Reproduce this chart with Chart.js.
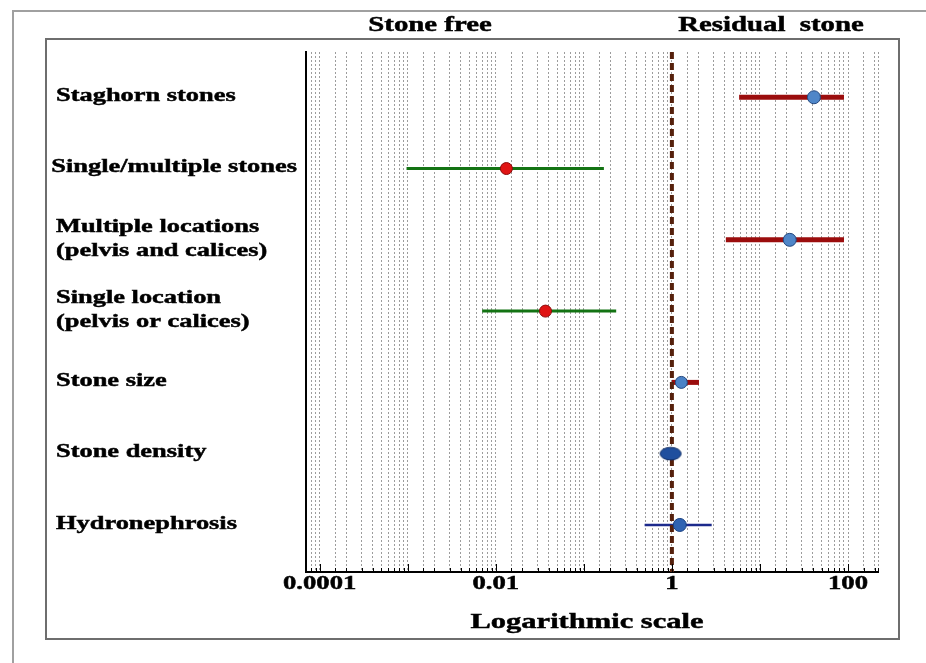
<!DOCTYPE html>
<html>
<head>
<meta charset="utf-8">
<script src="https://cdn.jsdelivr.net/npm/chart.js@4.4.0/dist/chart.umd.min.js"></script>
<style>
  html, body { margin: 0; padding: 0; background: #fff; overflow: hidden; }
  #wrap { position: relative; width: 926px; height: 663px; }
  #outer { position: absolute; left: 12px; top: 10px; width: 930px; height: 700px; border: 2px solid #a0a0a0; box-sizing: border-box; }
  #inner { position: absolute; left: 45px; top: 38px; width: 855px; height: 602px; border: 2px solid #6e6e6e; box-sizing: border-box; }
  canvas { position: absolute; left: 0; top: 0; }
</style>
</head>
<body>
<div id="wrap">
  <div id="outer"></div>
  <div id="inner"></div>
  <canvas id="forest" width="926" height="663"></canvas>
</div>
<script>
// rows of the forest plot, top to bottom
const categories = [
  ['Staghorn stones'],
  ['Single/multiple stones'],
  ['Multiple locations', '(pelvis and calices)'],
  ['Single location', '(pelvis or calices)'],
  ['Stone size'],
  ['Stone density'],
  ['Hydronephrosis']
];
const estimates = [41, 0.0132, 21.8, 0.0367, 1.28, 0.966, 1.23];
const lowerCI   = [5.8, 0.00097, 4.1, 0.0070, 1.0, 0.88, 0.49];
const upperCI   = [90, 0.169, 90, 0.233, 2.03, 1.1, 2.83];

const tickValues = [0.0001, 0.01, 1, 100];
const tickLabels = ['0.0001', '0.01', '1', '100'];
const referenceValue = 1;
const sideTitles = ['Stone free', 'Residual  stone'];
const axisTitle = 'Logarithmic scale';

// axis bounds
const X_MIN = 0.00007, X_MAX = 219;
const Y_MIN = -0.635, Y_MAX = 6.66;

// styles
const ciColors  = ['#9b0d0d', '#137313', '#9b0d0d', '#137313', '#9b0d0d', '#1c3f94', '#1c2a8c'];
const ciWidths  = [5, 3, 5, 3, 5, 3, 2.5];
const dotFill   = ['#4f86c8', '#e01414', '#4f86c8', '#e01414', '#4a82c6', '#1f4f9e', '#2f63b2'];
const dotEdge   = ['#23477e', '#8a0a0a', '#23477e', '#8a0a0a', '#23477e', '#0f2d66', '#173f80'];
const STRETCH = 1.42;
const FONT = '"Liberation Serif", "Times New Roman", serif';

// oval marker for stone density
const oval = document.createElement('canvas');
oval.width = 24; oval.height = 15;
const oc = oval.getContext('2d');
oc.beginPath();
oc.ellipse(12, 7.5, 10.5, 6.3, 0, 0, Math.PI * 2);
oc.fillStyle = dotFill[5];
oc.fill();
oc.lineWidth = 1;
oc.strokeStyle = dotEdge[5];
oc.stroke();
const dotStyles = ['circle', 'circle', 'circle', 'circle', 'circle', oval, 'circle'];
const dotRadius = [6.5, 6, 6.5, 6, 6, 7, 6.5];

function wideText(ctx, text, x, y, size, align) {
  ctx.save();
  ctx.font = 'bold ' + size + 'px ' + FONT;
  ctx.textBaseline = 'middle';
  ctx.textAlign = 'left';
  const w = ctx.measureText(text).width * STRETCH;
  const left = align === 'center' ? x - w / 2 : x;
  ctx.translate(left, y);
  ctx.scale(STRETCH, 1);
  ctx.fillStyle = '#000';
  ctx.strokeStyle = '#000';
  ctx.lineWidth = 0.45;
  ctx.fillText(text, 0, 0);
  ctx.strokeText(text, 0, 0);
  ctx.restore();
  return w;
}

function measureWide(ctx, text, size) {
  ctx.save();
  ctx.font = 'bold ' + size + 'px ' + FONT;
  const w = ctx.measureText(text).width * STRETCH;
  ctx.restore();
  return w;
}

const textPlugin = {
  id: 'forestText',
  afterDraw(chart) {
    const ctx = chart.ctx;
    const xs = chart.scales.x, ys = chart.scales.y;
    const area = chart.chartArea;

    // small tick marks pointing up from the axis line
    ctx.save();
    ctx.strokeStyle = '#000';
    ctx.lineWidth = 1;
    xs.ticks.forEach(t => {
      const px = Math.round(xs.getPixelForValue(t.value)) + 0.5;
      const len = t.major ? 8 : 4;
      ctx.beginPath();
      ctx.moveTo(px, area.bottom);
      ctx.lineTo(px, area.bottom - len);
      ctx.stroke();
    });
    ctx.restore();

    // row labels
    categories.forEach((lines, i) => {
      const cy = ys.getPixelForValue(i) - 1;
      lines.forEach((line, k) => {
        const y = cy + (k - (lines.length - 1) / 2) * 24;
        const w = measureWide(ctx, line, 18.6);
        const x = Math.min(56, area.left - 9 - w);
        wideText(ctx, line, x, y, 18.6, 'left');
      });
    });

    // tick labels
    tickValues.forEach((v, i) => {
      wideText(ctx, tickLabels[i], xs.getPixelForValue(v), area.bottom + 12, 18.8, 'center');
    });

    // axis title
    wideText(ctx, axisTitle, (area.left + area.right) / 2 - 5, area.bottom + 50, 21.5, 'center');

    // side titles above the box
    wideText(ctx, sideTitles[0], 430, 26, 20.3, 'center');
    wideText(ctx, sideTitles[1], 771, 26, 20.3, 'center');
  }
};

const ciSets = categories.map((c, i) => ({
  data: [{x: lowerCI[i], y: i}, {x: upperCI[i], y: i}],
  showLine: true,
  borderColor: ciColors[i],
  borderWidth: ciWidths[i],
  pointRadius: 0,
  order: 3
}));

const refSet = {
  data: [{x: referenceValue, y: Y_MIN}, {x: referenceValue, y: Y_MAX}],
  showLine: true,
  borderColor: '#55200c',
  borderWidth: 4,
  borderDash: [7, 4],
  pointRadius: 0,
  order: 2
};

const dotSet = {
  data: estimates.map((v, i) => ({x: v, y: i})),
  pointStyle: dotStyles,
  pointRadius: dotRadius,
  pointBackgroundColor: dotFill,
  pointBorderColor: dotEdge,
  pointBorderWidth: 1,
  order: 0
};

new Chart(document.getElementById('forest'), {
  type: 'scatter',
  data: { datasets: [...ciSets, refSet, dotSet] },
  options: {
    responsive: false,
    animation: false,
    devicePixelRatio: 1,
    layout: { padding: { left: 306, right: 48, top: 52, bottom: 91 } },
    plugins: { legend: { display: false }, tooltip: { enabled: false } },
    scales: {
      x: {
        type: 'logarithmic',
        min: X_MIN,
        max: X_MAX,
        ticks: { display: false },
        grid: { color: '#9c9c9c', lineWidth: 1, drawTicks: false },
        border: { display: true, color: '#000', width: 2, dash: [2, 2] }
      },
      y: {
        type: 'linear',
        reverse: true,
        min: Y_MIN,
        max: Y_MAX,
        ticks: { display: false },
        grid: { display: false, drawTicks: false },
        border: { display: true, color: '#000', width: 2 }
      }
    }
  },
  plugins: [textPlugin]
});
</script>
</body>
</html>
